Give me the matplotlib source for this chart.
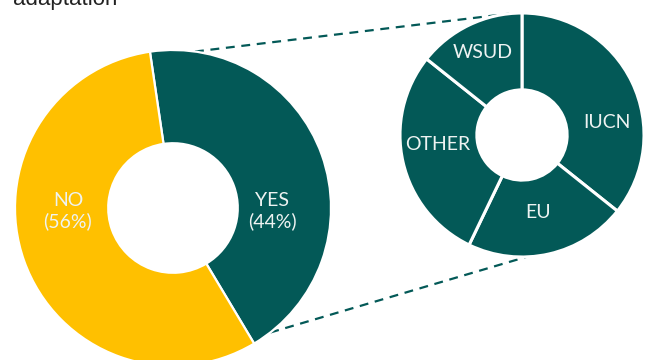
import numpy as np
import matplotlib.pyplot as plt

# answer split (counts -> 44% / 56%)
answers = ["YES", "NO"]
answer_counts = [14, 18]

# breakdown of the YES answers
frameworks = ["IUCN", "EU", "OTHER", "WSUD"]
framework_counts = [5, 3, 4, 2]

title_text = "adaptation"

TEAL = "#035957"
YELLOW = "#FFC000"
LABEL_COLOR = "#EEF3F2"


def main():
    fig = plt.figure(figsize=(6.49, 3.6), dpi=100)
    ax = fig.add_axes([0, 0, 1, 1])

    # left donut
    c1, r1 = (173, 152), 158
    ax.pie(answer_counts, colors=[TEAL, YELLOW], startangle=98.4,
           counterclock=False, center=c1, radius=r1,
           wedgeprops=dict(width=r1 * 0.59, edgecolor="white", linewidth=1.6),
           frame=True)
    total = sum(answer_counts)
    offsets1 = [(99, -3), (-105, -3)]
    for name, n, (dx, dy) in zip(answers, answer_counts, offsets1):
        ax.text(c1[0] + dx, c1[1] + dy, f"{name}\n({n / total:.0%})",
                ha="center", va="center", color=LABEL_COLOR, fontsize=14,
                family="Lato", linespacing=1.25, zorder=5)

    # right donut
    c2, r2 = (522, 225), 122
    ax.pie(framework_counts, colors=[TEAL] * len(framework_counts),
           startangle=90, counterclock=False, center=c2, radius=r2,
           wedgeprops=dict(width=r2 * 0.63, edgecolor="white", linewidth=2.2),
           frame=True)
    offsets2 = [(85, 12), (16, -78), (-84, -10), (-39, 82)]
    for name, (dx, dy) in zip(frameworks, offsets2):
        ax.text(c2[0] + dx, c2[1] + dy, name, ha="center", va="center",
                color=LABEL_COLOR, fontsize=14, family="Lato", zorder=5)

    # connector lines
    for a1, a2 in [(82, 96), (-52, -88)]:
        p1 = (c1[0] + r1 * np.cos(np.radians(a1)), c1[1] + r1 * np.sin(np.radians(a1)))
        p2 = (c2[0] + r2 * np.cos(np.radians(a2)), c2[1] + r2 * np.sin(np.radians(a2)))
        ax.plot([p1[0], p2[0]], [p1[1], p2[1]], color=TEAL, lw=1.6,
                ls=(0, (4, 3)), zorder=0)

    ax.set_xlim(0, 649)
    ax.set_ylim(0, 360)
    ax.set_aspect("equal")
    ax.axis("off")

    ax.text(13, 355, title_text, fontsize=16, family="Liberation Sans",
            color="#222222", va="baseline", ha="left")

    fig.savefig("out.png", dpi=100)


if __name__ == "__main__":
    main()
